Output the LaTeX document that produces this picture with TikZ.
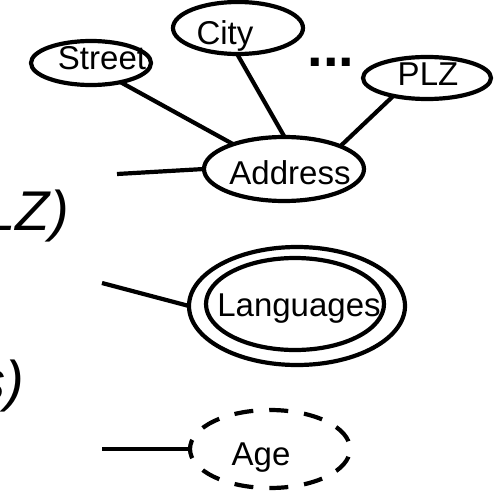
\documentclass[tikz,border=0pt]{standalone}
\usepackage{fontspec}
\setmainfont{Liberation Sans}
\usetikzlibrary{shapes.geometric}

\tikzset{
  attr/.style={draw, ellipse, line width=4.2pt, inner sep=0pt, outer sep=0pt},
  lbl/.style={anchor=base, inner sep=0pt, font=\fontsize{33}{38}\selectfont},
  bigtxt/.style={anchor=base east, inner sep=0pt, font=\fontsize{56}{62}\selectfont\itshape},
  conn/.style={line width=4.2pt},
  dashedattr/.style={attr, dash pattern=on 19pt off 16pt, dash phase=27pt},
}

\begin{document}
\begin{tikzpicture}[x=1pt, y=-1pt]
  \useasboundingbox (0,0) rectangle (502,492);
  \clip (0,0) rectangle (502,492);

  % fragments of the textual notation on the left
  \node[bigtxt] (tplz) at (69,230) {LZ)};
  \node[bigtxt] (tlang) at (24,400) {s)};

  % composite attribute Address and its parts
  \node[attr, minimum width=120pt, minimum height=44pt] (street) at (91,63) {};
  \node[lbl] (streett) at (102,70) {Street};
  \node[attr, minimum width=130pt, minimum height=52pt] (city) at (238,28) {};
  \node[lbl] (cityt) at (225,45) {City};
  \node[attr, minimum width=128pt, minimum height=42pt] (plz) at (427,78) {};
  \node[lbl] (plzt) at (428,85) {PLZ};
  \node[attr, minimum width=160pt, minimum height=64pt] (addr) at (284,169) {};
  \node[lbl] (addrt) at (290,184) {Address};
  \node[anchor=base, inner sep=0pt, font=\fontsize{56}{60}\selectfont\bfseries] (dots) at (331,67) {...};

  \draw[conn] (street.-33) -- (addr.154);
  \draw[conn] (city.-92) -- (addr.89);
  \draw[conn] (plz.-152) -- (addr.22);
  \coordinate (addrfree) at (117,174);
  \draw[conn] (addrfree) -- (addr.west);

  % multivalued attribute Languages
  \node[attr, minimum width=216pt, minimum height=118pt] (langout) at (297,306) {};
  \node[attr, minimum width=178pt, minimum height=92pt] (lang) at (295,304) {};
  \node[lbl] (langt) at (299,316) {Languages};
  \coordinate (langfree) at (102,283);
  \draw[conn] (langfree) -- (langout.west);

  % derived attribute Age
  \node[dashedattr, minimum width=160pt, minimum height=78pt] (age) at (270,449) {};
  \node[lbl] (aget) at (261,465) {Age};
  \coordinate (agefree) at (102,449);
  \draw[conn] (agefree) -- (age.west);
\end{tikzpicture}
\end{document}
